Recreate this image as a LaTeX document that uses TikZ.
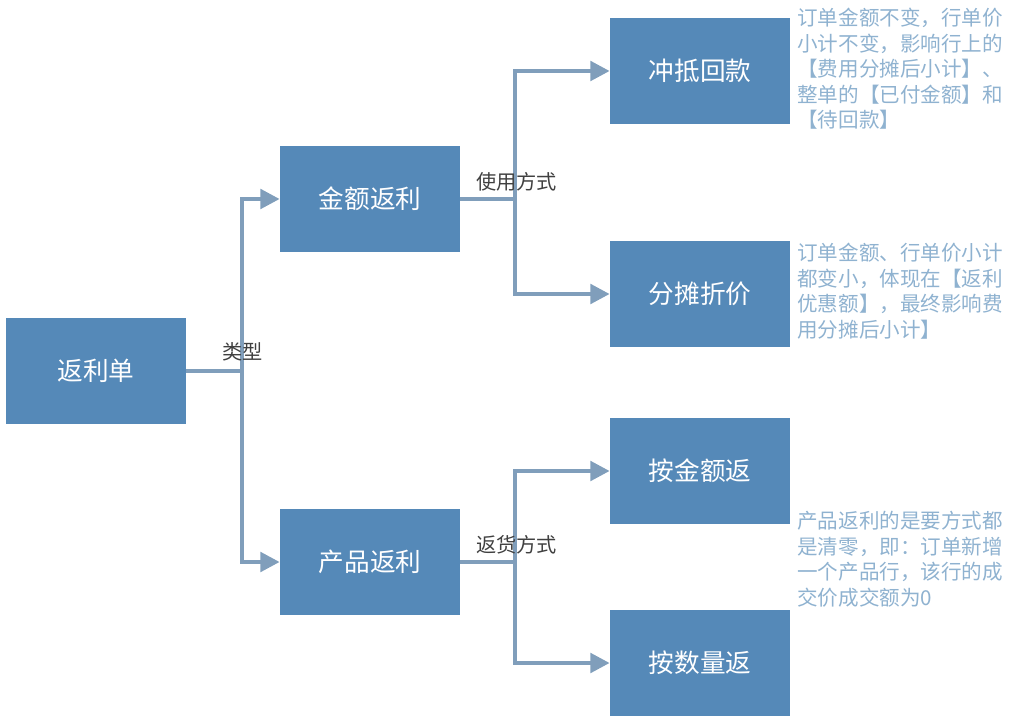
\documentclass[tikz,border=0pt]{standalone}
\usepackage{fontspec}
\setmainfont{Noto Sans CJK SC}
\usetikzlibrary{arrows.meta}
\usetikzlibrary{positioning}
\definecolor{boxblue}{HTML}{5589B8}
\definecolor{linkblue}{HTML}{809EBB}
\definecolor{notetext}{HTML}{8FB2D0}
\tikzset{
  box/.style={draw=none, fill=boxblue, text=white, minimum width=3.6cm, minimum height=2.12cm, font=\fontsize{14.6}{16}\selectfont},
  conn/.style={draw=linkblue, line width=2.4pt, -{Triangle[length=11pt,width=11pt]}},
  tag/.style={anchor=west, text=black!75, font=\fontsize{11.5}{13}\selectfont, inner sep=0pt},
  note/.style={anchor=north west, align=left, text=notetext, inner sep=0pt, font=\fontsize{11.7}{14.5}\selectfont}
}
\begin{document}
\begin{tikzpicture}[x=0.02cm, y=-0.02cm]
    \useasboundingbox (0,0) rectangle (1016,722);
    \node[box] (rebate) at (96,371) {返利单};
    \node[box] (amount) at (370,199) {金额返利};
    \node[box] (product) at (370,562) {产品返利};
    \node[box] (offset) at (700,71) {冲抵回款};
    \node[box] (spread) at (700,294) {分摊折价};
    \node[box] (byamt) at (700,471) {按金额返};
    \node[box] (byqty) at (700,663) {按数量返};

    \coordinate (s1) at (242,0);
    \coordinate (s2) at (515,0);

    \draw[conn] (rebate.east) -- (s1 |- rebate.east) |- (amount.west);
    \draw[conn] (rebate.east) -- (s1 |- rebate.east) |- (product.west);
    \draw[conn] (amount.east) -- (s2 |- amount.east) |- (offset.west);
    \draw[conn] (amount.east) -- (s2 |- amount.east) |- (spread.west);
    \draw[conn] (product.east) -- (s2 |- product.east) |- (byamt.west);
    \draw[conn] (product.east) -- (s2 |- product.east) |- (byqty.west);

    \node[tag] (t1) at (222,352) {类型};
    \node[tag] (t2) at (476,182) {使用方式};
    \node[tag] (t3) at (476,545) {返货方式};

    \node[note] (n1) at (797,8) {订单金额不变，行单价\\小计不变，影响行上的\\【费用分摊后小计】、\\整单的【已付金额】和\\【待回款】};
    \node[note] (n2) at (797,243) {订单金额、行单价小计\\都变小，体现在【返利\\优惠额】，最终影响费\\用分摊后小计】};
    \node[note] (n3) at (797,511) {产品返利的是要方式都\\是清零，即：订单新增\\一个产品行，该行的成\\交价成交额为0};
\end{tikzpicture}
\end{document}
